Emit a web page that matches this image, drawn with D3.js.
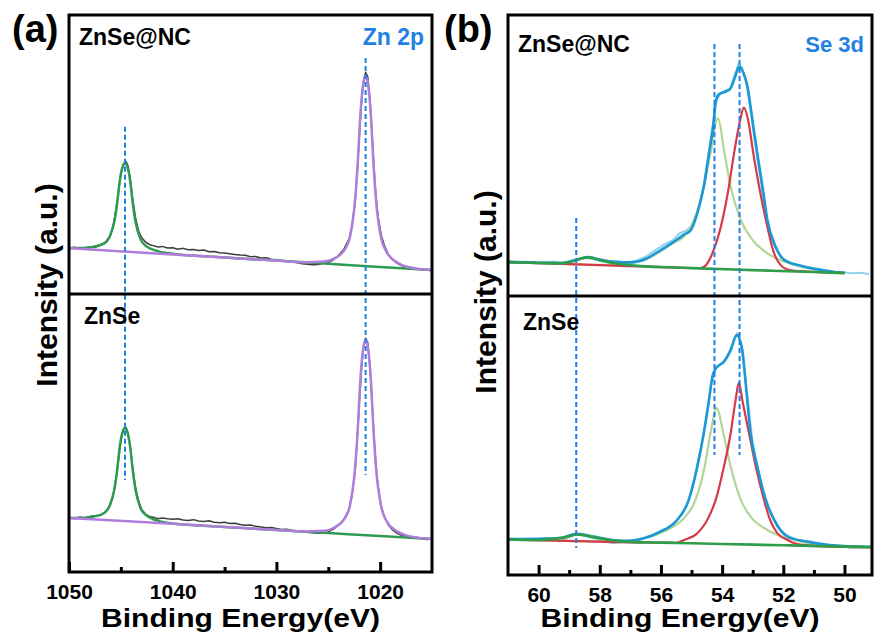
<!DOCTYPE html>
<html>
<head>
<meta charset="utf-8">
<script src="https://cdn.jsdelivr.net/npm/d3@7"></script>
<style>
  body { margin: 0; background: #fff; }
  svg text { font-family: "Liberation Sans", Arial, sans-serif; font-weight: bold; }
</style>
</head>
<body>
<svg id="chart" width="874" height="641"></svg>
<script>
// ---- Zn 2p, values as [binding energy, intensity a.u.] ----
const zn2pTicks = [1050, 1040, 1030, 1020];
const zn2pMinor = [1045, 1035, 1025];

// ZnSe@NC (upper half of panel a)
const zn2pNcRaw = [
  [1050, 15.6], [1049.5, 16.1], [1049, 15.5], [1048.5, 15.9], [1048, 16.2], [1047.5, 16.0], [1047, 16.9],
  [1046.5, 17.8], [1046, 20.4], [1045.7, 24.6], [1045.4, 31.5], [1045.1, 39.8], [1044.9, 44.2], [1044.7, 46.0],
  [1044.5, 46.9], [1044.3, 45.3], [1044.1, 41.0], [1043.9, 34.5], [1043.6, 27.0], [1043.3, 22.0], [1043.0, 19.6],
  [1042.6, 17.9], [1042.2, 17.0], [1041.8, 16.6], [1041.4, 16.2], [1041.0, 16.4], [1040.5, 15.8], [1040.0, 15.9],
  [1039.5, 15.4], [1039.0, 15.7], [1038.5, 15.2], [1038.0, 15.3], [1037.5, 14.9], [1037.0, 15.1], [1036.5, 14.5],
  [1036.0, 14.6], [1035.5, 14.1], [1035.0, 14.0], [1034.5, 13.8], [1034.0, 13.5], [1033.5, 13.3], [1033.0, 13.2],
  [1032.5, 12.7], [1032.0, 12.8], [1031.5, 12.2], [1031.0, 12.3], [1030.5, 11.8], [1030.0, 11.6], [1029.5, 11.3],
  [1029.0, 11.0], [1028.5, 10.9], [1028.0, 10.5], [1027.5, 10.2], [1027.0, 10.0], [1026.5, 9.8], [1026.0, 9.9],
  [1025.5, 10.3], [1025.0, 10.6], [1024.5, 11.6], [1024.0, 13.2], [1023.5, 15.4], [1023.0, 19.0], [1022.7, 24.0],
  [1022.4, 33.0], [1022.2, 43.5], [1022.0, 56.0], [1021.8, 68.0], [1021.6, 76.0], [1021.4, 79.0], [1021.2, 77.5],
  [1021.0, 70.0], [1020.8, 58.0], [1020.6, 45.0], [1020.4, 34.5], [1020.2, 27.0], [1019.9, 20.5], [1019.6, 16.8],
  [1019.2, 13.5], [1018.8, 11.6], [1018.4, 10.4], [1018.0, 9.6], [1017.5, 8.9], [1017.0, 8.8], [1016.5, 8.3],
  [1016.0, 8.1], [1015.5, 7.9], [1015.1, 7.6]
];
const zn2pNcGreen = [
  [1050, 15.8], [1048.6, 15.8], [1047.6, 16.3], [1046.6, 17.5], [1046.1, 19.7], [1045.6, 25.9], [1045.35, 32.2],
  [1045.1, 40.1], [1044.85, 44.8], [1044.6, 46.4], [1044.35, 44.7], [1044.1, 39.9], [1043.85, 31.9], [1043.6, 25.5],
  [1043.1, 19.0], [1042.6, 16.6], [1041.6, 14.9], [1040.6, 14.0], [1035, 12.4], [1030, 11.3], [1025, 10.2],
  [1020, 9.0], [1015, 7.9]
];
const zn2pNcPurple = [
  [1050, 15.8], [1040, 13.5], [1030, 11.3], [1027.4, 10.7], [1025.4, 10.95], [1024.4, 12.1], [1023.4, 15.3],
  [1022.9, 20.0], [1022.4, 33.6], [1022.15, 47.1], [1021.9, 64.2], [1021.65, 74.4], [1021.4, 77.7], [1021.15, 74.3],
  [1020.9, 64.0], [1020.65, 46.8], [1020.4, 33.1], [1019.9, 19.3], [1019.4, 14.5], [1018.4, 10.7], [1017.4, 9.1],
  [1015, 7.9]
];

// ZnSe (lower half of panel a)
const zn2pRaw = [
  [1050, 19.5], [1049.5, 19.1], [1049, 19.6], [1048.5, 19.4], [1048, 19.8], [1047.5, 20.1], [1047, 20.3],
  [1046.5, 21.4], [1046, 24.0], [1045.7, 28.0], [1045.4, 35.0], [1045.1, 44.0], [1044.9, 49.0], [1044.7, 51.2],
  [1044.5, 51.6], [1044.3, 49.5], [1044.1, 45.0], [1043.9, 38.5], [1043.6, 30.5], [1043.3, 25.5], [1043.0, 22.3],
  [1042.6, 20.6], [1042.2, 19.8], [1041.8, 19.5], [1041.4, 19.0], [1041.0, 19.3], [1040.5, 19.0], [1040.0, 18.8],
  [1039.5, 19.0], [1039.0, 18.6], [1038.5, 18.4], [1038.0, 18.7], [1037.5, 18.2], [1037.0, 18.0], [1036.5, 18.3],
  [1036.0, 17.8], [1035.5, 17.6], [1035.0, 17.8], [1034.5, 17.3], [1034.0, 17.4], [1033.5, 17.0], [1033.0, 16.7],
  [1032.5, 16.8], [1032.0, 16.3], [1031.5, 16.1], [1031.0, 15.8], [1030.5, 15.9], [1030.0, 15.5], [1029.5, 15.2],
  [1029.0, 15.3], [1028.5, 14.9], [1028.0, 14.6], [1027.5, 14.4], [1027.0, 14.2], [1026.5, 14.0], [1026.0, 13.8],
  [1025.5, 14.1], [1025.0, 14.3], [1024.5, 15.3], [1024.0, 16.8], [1023.5, 18.8], [1023.0, 22.3], [1022.7, 27.5],
  [1022.4, 37.0], [1022.2, 48.0], [1022.0, 60.5], [1021.8, 72.5], [1021.6, 80.5], [1021.4, 83.5], [1021.2, 82.0],
  [1021.0, 74.5], [1020.8, 62.5], [1020.6, 49.0], [1020.4, 38.0], [1020.2, 30.5], [1019.9, 23.5], [1019.6, 19.8],
  [1019.2, 16.8], [1018.8, 15.0], [1018.4, 13.9], [1018.0, 13.2], [1017.5, 12.8], [1017.0, 12.2], [1016.5, 12.4],
  [1016.0, 11.9], [1015.5, 11.6], [1015.1, 11.8]
];
const zn2pGreen = [
  [1050, 19.3], [1048.6, 19.3], [1047.6, 19.8], [1046.6, 21.1], [1046.1, 23.5], [1045.6, 30.0], [1045.35, 36.6],
  [1045.1, 44.9], [1044.85, 49.8], [1044.6, 51.4], [1044.35, 49.7], [1044.1, 44.6], [1043.85, 36.3], [1043.6, 29.6],
  [1043.1, 22.8], [1042.6, 20.4], [1041.6, 18.5], [1040.6, 17.6], [1035, 16.1], [1030, 15.0], [1025, 13.9],
  [1020, 12.9], [1015, 11.8]
];
const zn2pPurple = [
  [1050, 19.3], [1040, 17.2], [1030, 15.0], [1027.4, 14.5], [1025.4, 14.7], [1024.4, 15.9], [1023.4, 19.2],
  [1022.9, 24.0], [1022.4, 37.8], [1022.15, 51.6], [1021.9, 69.1], [1021.65, 79.4], [1021.4, 82.9], [1021.15, 79.3],
  [1020.9, 68.9], [1020.65, 51.3], [1020.4, 37.4], [1019.9, 23.4], [1019.4, 18.3], [1018.4, 14.6], [1017.4, 13.0],
  [1015, 11.8]
];
// dashed guides: energy, start (upper-half units), end (lower-half units)
const zn2pRefs = [
  { e: 1044.6, from: 59.4, to: 32.9 },
  { e: 1021.4, from: 84.2, to: 34.6 }
];

// ---- Se 3d ----
const se3dTicks = [60, 58, 56, 54, 52, 50];
const se3dMinor = [59, 57, 55, 53, 51];

// ZnSe@NC (upper half of panel b)
const se3dNcRaw = [
  [61.0, 11.9], [60.7, 11.5], [60.4, 11.8], [60.1, 11.3], [59.8, 11.6], [59.5, 11.9], [59.2, 11.4], [58.9, 12.4],
  [58.6, 13.2], [58.3, 13.0], [58.0, 12.1], [57.7, 11.6], [57.4, 11.9], [57.1, 11.4], [56.8, 12.2], [56.5, 13.6],
  [56.2, 15.8], [55.9, 17.9], [55.6, 19.6], [55.4, 21.9], [55.2, 22.8], [55.0, 24.5], [54.8, 29.5], [54.6, 39.0],
  [54.45, 49.8], [54.3, 61.0], [54.18, 69.0], [54.05, 71.8], [53.9, 72.8], [53.75, 73.2], [53.6, 77.8], [53.45, 82.5],
  [53.35, 81.0], [53.2, 75.0], [53.05, 64.0], [52.9, 52.0], [52.75, 41.5], [52.6, 29.8], [52.45, 22.5], [52.3, 17.8],
  [52.1, 13.6], [51.9, 11.8], [51.6, 10.9], [51.3, 10.0], [51.0, 9.3], [50.7, 8.9], [50.4, 8.0], [50.1, 8.3],
  [49.8, 7.7], [49.5, 7.9], [49.2, 7.5]
];
const se3dNcEnv = [
  [61, 11.8], [59.2, 11.4], [58.8, 12.4], [58.4, 13.5], [58.0, 12.6], [57.5, 11.8], [57, 11.6], [56.5, 12.8],
  [56.12, 15.2], [55.6, 18.8], [55.25, 21.5], [55.03, 23.0], [54.81, 29.1], [54.6, 38.5], [54.43, 50.4],
  [54.27, 62.3], [54.22, 68.5], [54.1, 71.5], [53.9, 72.3], [53.72, 73.6], [53.58, 77.5], [53.45, 81.2],
  [53.3, 79.0], [53.17, 74.1], [53.01, 62.3], [52.85, 50.4], [52.68, 38.5], [52.52, 26.7], [52.25, 17.2],
  [51.97, 12.5], [51.43, 10.4], [50.8, 9.0], [50.33, 8.2], [50.0, 7.9]
];
const se3dNcRed = [
  [61, 11.7], [58, 10.64], [56, 9.93], [55, 9.6], [54.7, 9.6], [54.5, 11.0], [54.32, 14.8], [53.99, 26.7],
  [53.78, 38.5], [53.61, 50.4], [53.41, 62.3], [53.29, 66.7], [53.15, 62.3], [52.98, 50.4], [52.79, 38.5],
  [52.57, 26.7], [52.3, 14.8], [52.1, 10.8], [51.8, 8.9], [51, 8.2], [50, 7.8]
];
const se3dNcLight = [
  [61, 11.7], [59, 11.0], [58, 10.7], [57.6, 10.7], [57, 11.3], [56.5, 12.6], [56.12, 14.8], [55.6, 18.5],
  [55.25, 20.7], [54.92, 26.7], [54.6, 38.5], [54.38, 50.4], [54.14, 62.9], [53.92, 50.4], [53.72, 38.5],
  [53.39, 26.7], [53.0, 19.5], [52.52, 14.8], [52.0, 12.0], [51.43, 10.1], [50.8, 8.9], [50, 7.9]
];
const se3dNcBg = [
  [61, 11.7], [60, 11.4], [59.5, 11.3], [59.1, 11.5], [58.8, 12.3], [58.6, 13.0], [58.4, 13.4], [58.2, 13.1],
  [57.9, 12.2], [57.5, 11.2], [57, 10.6], [56.5, 10.2], [56, 9.95], [55, 9.57], [53, 8.86], [51, 8.16], [50, 7.8]
];

// ZnSe (lower half of panel b)
const se3dRaw = [
  [61.0, 12.9], [60.7, 12.6], [60.4, 13.0], [60.1, 12.7], [59.8, 12.5], [59.6, 12.9], [59.3, 12.0], [59.0, 13.8],
  [58.75, 14.7], [58.5, 14.1], [58.2, 13.2], [57.9, 12.6], [57.6, 11.4], [57.3, 11.9], [57.0, 12.2], [56.7, 12.6],
  [56.4, 13.9], [56.1, 15.2], [55.8, 16.8], [55.5, 19.5], [55.3, 21.8], [55.1, 26.5], [54.9, 35.0], [54.7, 45.5],
  [54.5, 57.5], [54.35, 68.5], [54.2, 74.5], [54.05, 75.8], [53.9, 77.5], [53.75, 80.5], [53.6, 84.8], [53.5, 87.0],
  [53.4, 84.0], [53.3, 76.5], [53.15, 62.0], [53.0, 47.5], [52.85, 39.5], [52.7, 31.5], [52.5, 24.5], [52.3, 20.0],
  [52.1, 16.5], [51.9, 14.3], [51.6, 12.8], [51.3, 11.9], [51.0, 11.4], [50.7, 10.6], [50.4, 10.2], [50.1, 10.4],
  [49.8, 9.8], [49.5, 10.1], [49.2, 9.9]
];
const se3dEnv = [
  [61, 12.9], [59.3, 13.3], [58.75, 14.8], [58.2, 13.8], [57.5, 12.5], [57, 12.3], [56.56, 13.2], [56.02, 15.6],
  [55.47, 19.8], [55.09, 27.0], [54.81, 39.0], [54.6, 51.0], [54.43, 62.9], [54.32, 71.3], [54.21, 74.3],
  [53.94, 76.7], [53.72, 80.9], [53.52, 86.3], [53.34, 80.9], [53.23, 69.0], [53.07, 51.0], [52.85, 39.0],
  [52.57, 27.0], [52.3, 19.8], [51.86, 13.8], [51.21, 12.0], [50.5, 10.8], [49.1, 10.1]
];
const se3dRed = [
  [61, 12.8], [56, 11.63], [55.5, 11.6], [55.25, 12.6], [54.81, 15.0], [54.43, 21.0], [54.21, 27.0], [53.94, 39.0],
  [53.72, 51.0], [53.56, 62.9], [53.45, 69.2], [53.34, 62.9], [53.12, 51.0], [52.9, 39.0], [52.63, 27.0],
  [52.47, 21.0], [52.19, 15.0], [51.86, 12.6], [51.5, 11.0], [51, 10.5], [49.1, 10.0]
];
const se3dLight = [
  [61, 12.8], [58, 12.1], [57.2, 12.2], [56.56, 13.2], [55.8, 16.2], [55.2, 21.0], [54.87, 27.0], [54.57, 39.0],
  [54.38, 51.0], [54.18, 60.0], [53.96, 51.0], [53.72, 39.0], [53.39, 27.0], [53.07, 21.0], [52.52, 16.2],
  [51.86, 13.2], [51.2, 11.4], [50.5, 10.5], [49.1, 10.0]
];
const se3dBg = [
  [61, 12.8], [60.2, 12.6], [59.8, 12.7], [59.4, 13.1], [59.0, 13.9], [58.75, 14.6], [58.5, 14.3], [58.2, 13.6],
  [57.8, 12.8], [57.4, 12.2], [57, 11.9], [56, 11.63], [54, 11.16], [52, 10.69], [50, 10.22], [49.1, 10.0]
];
const se3dRefs = [
  { e: 58.77, from: 27.4, to: 9.7 },
  { e: 54.25, from: 89.3, to: 43.2 },
  { e: 53.43, from: 89.3, to: 43.2 }
];

const svg = d3.select("#chart");
const guideBlue = "#1f80e6";

function drawPanel(p) {
  const x = d3.scaleLinear().domain(p.domain).range([p.left, p.right]);
  const yScales = {
    top: d3.scaleLinear().domain([0, 100]).range(p.topRange),
    bottom: d3.scaleLinear().domain([0, 100]).range(p.botRange)
  };
  const g = svg.append("g");

  // clip each half to its box
  const clips = { top: [p.top, p.mid], bottom: [p.mid, p.bottom] };
  Object.entries(clips).forEach(([k, [y0, y1]]) => {
    g.append("clipPath").attr("id", `${p.id}-${k}`)
      .append("rect").attr("x", p.left).attr("y", y0).attr("width", p.right - p.left).attr("height", y1 - y0);
  });

  p.series.forEach(s => {
    const y = yScales[s.half];
    g.append("path")
      .datum(s.data)
      .attr("clip-path", `url(#${p.id}-${s.half})`)
      .attr("fill", "none")
      .attr("stroke", s.color)
      .attr("stroke-width", s.width)
      .attr("stroke-linejoin", "round")
      .attr("d", d3.line().x(d => x(d[0])).y(d => y(d[1])).curve(s.raw ? d3.curveLinear : d3.curveMonotoneX));
  });

  // dashed guides
  g.selectAll(".guide")
    .data(p.refs)
    .join("line")
      .attr("class", "guide")
      .attr("x1", d => x(d.e)).attr("x2", d => x(d.e))
      .attr("y1", d => yScales.top(d.from)).attr("y2", d => yScales.bottom(d.to))
      .attr("stroke", guideBlue).attr("stroke-width", 2).attr("stroke-dasharray", "5,3");

  // frame and divider
  g.append("rect")
    .attr("x", p.left).attr("y", p.top)
    .attr("width", p.right - p.left).attr("height", p.bottom - p.top)
    .attr("fill", "none").attr("stroke", "#000").attr("stroke-width", 3);
  g.append("line")
    .attr("x1", p.left).attr("x2", p.right).attr("y1", p.mid).attr("y2", p.mid)
    .attr("stroke", "#000").attr("stroke-width", 3);

  // bottom axis, ticks pointing inward
  const major = g.append("g")
    .attr("transform", `translate(0,${p.bottom})`)
    .call(d3.axisBottom(x).tickValues(p.ticks).tickSize(-10).tickPadding(12).tickFormat(d3.format("d")));
  const minor = g.append("g")
    .attr("transform", `translate(0,${p.bottom})`)
    .call(d3.axisBottom(x).tickValues(p.minor).tickSize(-5).tickFormat(""));
  [major, minor].forEach(a => {
    a.select(".domain").remove();
    a.selectAll("line").attr("stroke", "#000").attr("stroke-width", 3);
  });
  major.attr("font-size", 21);
  major.selectAll("text").attr("fill", "#000");

  // texts
  g.append("text").attr("x", p.tagX).attr("y", 42).attr("font-size", 38).text(p.tag);
  g.append("text").attr("x", p.left + 10).attr("y", p.ncY).attr("font-size", 23).text("ZnSe@NC");
  g.append("text").attr("x", p.left + 15).attr("y", p.znY).attr("font-size", 23).text("ZnSe");
  g.append("text").attr("x", p.right - 8).attr("y", p.ncY).attr("text-anchor", "end")
    .attr("font-size", p.coreSize).attr("fill", guideBlue).text(p.core);
  g.append("text")
    .attr("x", (p.left + p.right) / 2 - 10).attr("y", 627)
    .attr("text-anchor", "middle").attr("font-size", 25)
    .attr("textLength", 279).attr("lengthAdjust", "spacingAndGlyphs")
    .text("Binding Energy(eV)");
  g.append("text")
    .attr("transform", `translate(${p.left - 12},${p.yTitleC}) rotate(-90)`)
    .attr("text-anchor", "middle").attr("font-size", 30)
    .text("Intensity (a.u.)");
}

drawPanel({
  id: "pa", tag: "(a)", tagX: 12, core: "Zn 2p", coreSize: 23,
  left: 69, right: 432, top: 15, mid: 294, bottom: 572,
  domain: [1050, 1015], topRange: [292, 14], botRange: [572, 292],
  ticks: zn2pTicks, minor: zn2pMinor, refs: zn2pRefs,
  ncY: 45, znY: 324, yTitleC: 285,
  series: [
    { half: "top", data: zn2pNcRaw, color: "#3d3d3d", width: 1.5, raw: true },
    { half: "top", data: zn2pNcGreen, color: "#2f9a52", width: 2.5 },
    { half: "top", data: zn2pNcPurple, color: "#b07ddd", width: 2.5 },
    { half: "bottom", data: zn2pRaw, color: "#3d3d3d", width: 1.5, raw: true },
    { half: "bottom", data: zn2pGreen, color: "#2f9a52", width: 2.5 },
    { half: "bottom", data: zn2pPurple, color: "#b07ddd", width: 2.5 }
  ]
});

drawPanel({
  id: "pb", tag: "(b)", tagX: 444, core: "Se 3d", coreSize: 22,
  left: 508, right: 872, top: 15, mid: 296, bottom: 575,
  domain: [61, 49.1], topRange: [295, 14], botRange: [575, 297],
  ticks: se3dTicks, minor: se3dMinor, refs: se3dRefs,
  ncY: 52, znY: 330, yTitleC: 292,
  series: [
    { half: "top", data: se3dNcRaw, color: "#8fd0ef", width: 2, raw: true },
    { half: "top", data: se3dNcLight, color: "#b3d596", width: 2.2 },
    { half: "top", data: se3dNcRed, color: "#d63a48", width: 2.2 },
    { half: "top", data: se3dNcEnv, color: "#1b98d5", width: 2.6 },
    { half: "top", data: se3dNcBg, color: "#2e9e48", width: 2.6 },
    { half: "bottom", data: se3dRaw, color: "#8fd0ef", width: 2, raw: true },
    { half: "bottom", data: se3dLight, color: "#b3d596", width: 2.2 },
    { half: "bottom", data: se3dRed, color: "#d63a48", width: 2.2 },
    { half: "bottom", data: se3dEnv, color: "#1b98d5", width: 2.6 },
    { half: "bottom", data: se3dBg, color: "#2e9e48", width: 2.6 }
  ]
});
</script>
</body>
</html>
